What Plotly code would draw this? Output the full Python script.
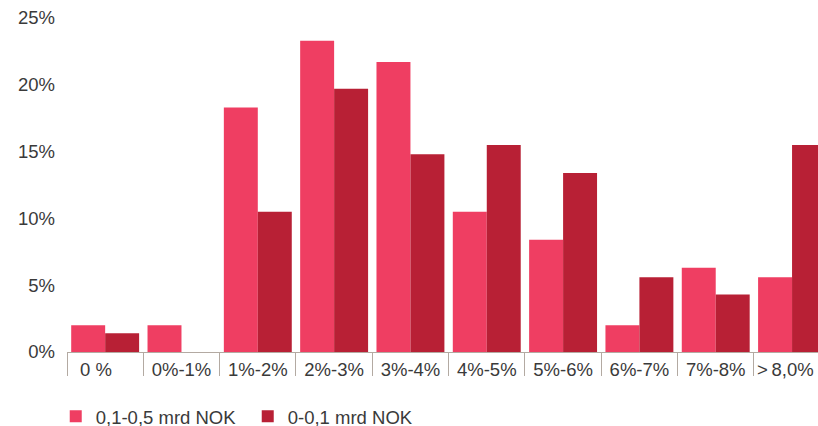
import plotly.graph_objects as go

# Interest-rate buckets and share of companies in each bucket (%)
categories = ["0 %\u2002\u2002", "0%-1%", "1%-2%", "2%-3%", "3%-4%", "4%-5%",
              "5%-6%", "6%-7%", "7%-8%", ">\u20098,0%"]
series_mid = [2.0, 2.0, 18.3, 23.3, 21.7, 10.5, 8.4, 2.0, 6.3, 5.6]
series_small = [1.4, 0.0, 10.5, 19.7, 14.8, 15.5, 13.4, 5.6, 4.3, 15.5]
name_mid = "0,1-0,5 mrd NOK"
name_small = "0-0,1 mrd NOK"
y_ticks = [0, 5, 10, 15, 20, 25]

font_family = "Liberation Sans, Arial, Helvetica, sans-serif"
text_color = "#3a3a3a"
axis_color = "#b3aaa2"
fsize = 18.5

fig = go.Figure()
fig.add_trace(go.Bar(x=categories, y=series_mid, name=name_mid,
                     marker=dict(color="#EF3E62", line=dict(width=0))))
fig.add_trace(go.Bar(x=categories, y=series_small, name=name_small,
                     marker=dict(color="#B82035", line=dict(width=0))))

# The last bucket sits at the clipped right edge; its label is right-aligned
# to the figure edge so it stays fully visible.
tick_text = categories[:-1] + [""]
fig.add_annotation(
    text=categories[-1], xref="paper", yref="paper", x=0.997, y=0,
    xanchor="right", yanchor="middle", yshift=-17, showarrow=False,
    font=dict(size=fsize, color=text_color, family="Liberation Sans, Arial, sans-serif"),
)

fig.update_layout(
    width=818, height=426,
    margin=dict(l=67, r=0, t=18, b=74, autoexpand=False),
    paper_bgcolor="white", plot_bgcolor="white",
    barmode="group", bargap=0.11, bargroupgap=0,
    font=dict(family=font_family, size=fsize, color=text_color),
    showlegend=True,
    legend=dict(orientation="h", x=-0.015, xanchor="left", y=-0.137, yanchor="top",
                font=dict(size=fsize, color=text_color), itemwidth=30,
                entrywidth=147,
                traceorder="normal", bgcolor="rgba(0,0,0,0)"),
)
fig.update_xaxes(
    type="category", range=[-0.5, 9.34],
    tickvals=categories, ticktext=tick_text,
    showline=True, linecolor=axis_color, linewidth=1,
    ticks="outside", tickson="boundaries", ticklen=23, tickcolor=axis_color, tickwidth=1,
    ticklabelstandoff=1,
    showgrid=False, zeroline=False,
    tickfont=dict(size=fsize, color=text_color),
)
fig.update_yaxes(
    range=[0, 25], tickvals=y_ticks, ticktext=[f"{v}%" for v in y_ticks],
    showgrid=False, zeroline=False, showline=False, ticks="",
    ticklabelstandoff=11,
    tickfont=dict(size=fsize, color=text_color),
)

fig.write_html("out.html")
